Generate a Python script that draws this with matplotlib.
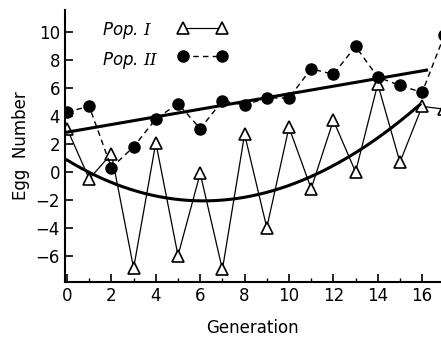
import numpy as np
import matplotlib
matplotlib.use('Agg')
import matplotlib.pyplot as plt
from matplotlib.ticker import MultipleLocator

# Generation numbers
generation = np.arange(0, 18)

# Egg number, population I (open triangles)
pop1 = [3.1, -0.5, 1.3, -6.9, 2.1, -6.0, -0.1, -7.0, 2.7, -4.0,
        3.2, -1.2, 3.7, 0.0, 6.3, 0.7, 4.7, 4.5]

# Egg number, population II (filled circles)
pop2 = [4.3, 4.7, 0.3, 1.8, 3.8, 4.9, 3.1, 5.1, 4.8, 5.3,
        5.3, 7.4, 7.0, 9.0, 6.8, 6.2, 5.7, 9.8]

# trend lines
lin_x = [0, 16.2]
lin_y = [2.85, 7.3]
curve_x = [0, 3.3, 5.1, 7.0, 8.7, 9.3, 11.0, 11.5, 15.9]
curve_y = [0.8, -1.3, -2.0, -2.15, -1.65, -1.4, -0.2, 0.1, 4.8]

plt.rcParams['font.family'] = ['DejaVu Sans']
plt.rcParams['mathtext.fontset'] = 'dejavuserif'

fig = plt.figure(figsize=(4.41, 3.39), dpi=100)
ax = fig.add_axes([0.147, 0.168, 0.853, 0.802])

l1, = ax.plot(generation, pop1, color='black', lw=0.9, marker='^', ms=9,
              mfc='white', mec='black', mew=1.2)
l2, = ax.plot(generation, pop2, color='black', lw=1.0, ls=(0, (4, 3)), marker='o',
              ms=8, mfc='black', mec='black')

ax.plot(lin_x, lin_y, color='black', lw=2.2)
# smooth curve through the read points
cc = np.polyfit(curve_x, curve_y, 3)
xs = np.linspace(0, 15.9, 200)
ax.plot(xs, np.polyval(cc, xs), color='black', lw=2.2)

ax.set_xlim(-0.1, 16.85)
ax.set_ylim(-7.9, 11.6)
ax.set_xticks(range(0, 17, 2))
ax.xaxis.set_minor_locator(MultipleLocator(1))
ax.set_yticks(range(-6, 11, 2))
ax.tick_params(direction='in', length=6, width=1.2, labelsize=12)
ax.tick_params(which='minor', direction='in', length=3, width=1)
ax.spines['top'].set_visible(False)
ax.spines['right'].set_visible(False)
ax.spines['left'].set_linewidth(1.5)
ax.spines['bottom'].set_linewidth(1.5)

ax.set_xlabel('Generation', fontsize=12, labelpad=10)
ax.set_ylabel('Egg  Number', fontsize=12, labelpad=4)

# legend: handles from matplotlib, labels as separate left-aligned texts
ax.legend([l1, l2], ['', ''], loc='upper left', bbox_to_anchor=(0.26, 1.02),
          frameon=False, numpoints=2, handlelength=2.94, handletextpad=0,
          fontsize=12, labelspacing=0.6)
ax.text(0.098, 0.926, 'Pop. $\\mathit{I}$', transform=ax.transAxes,
        fontsize=12, style='italic', va='center')
ax.text(0.098, 0.816, 'Pop. $\\mathit{II}$', transform=ax.transAxes,
        fontsize=12, style='italic', va='center')

plt.savefig('out.png', dpi=100)
